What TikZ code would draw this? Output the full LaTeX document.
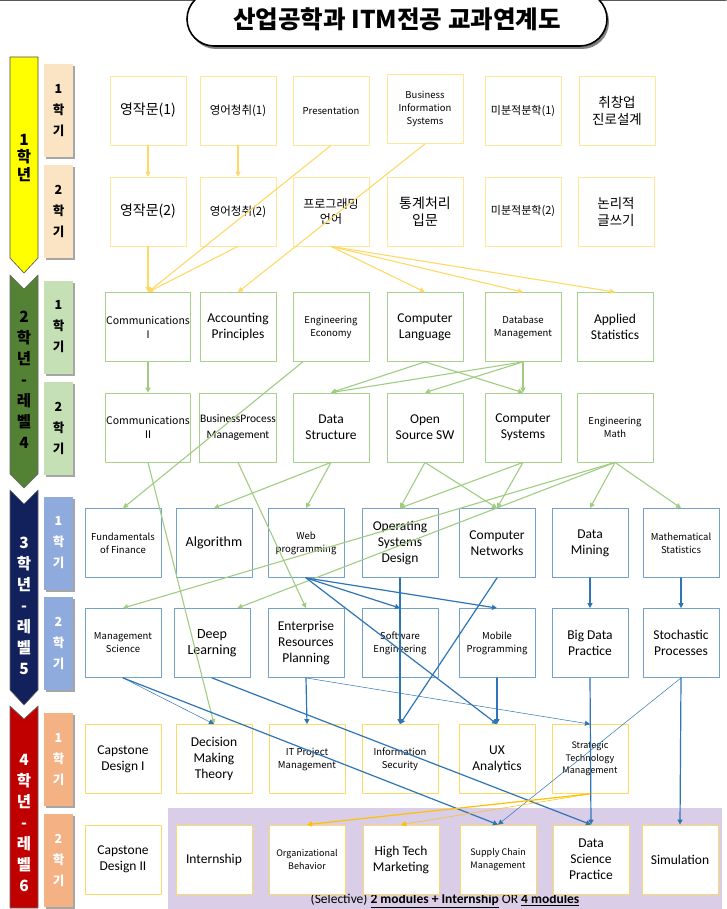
\documentclass[tikz,border=0pt]{standalone}
\usepackage{fontspec}
\setmainfont{Carlito}
\newfontfamily\kr{Noto Sans CJK KR}
\usetikzlibrary{arrows.meta,shadows}
\definecolor{vienvang}{RGB}{255,230,153}
\definecolor{vienla}{RGB}{169,209,142}
\definecolor{vienlam}{RGB}{116,160,204}
\definecolor{viencam}{RGB}{255,217,102}
\definecolor{muivang}{RGB}{255,217,102}
\definecolor{muila}{RGB}{160,205,130}
\definecolor{muilam}{RGB}{46,117,182}
\definecolor{muicam}{RGB}{255,192,0}
\definecolor{namvang}{RGB}{255,255,0}
\definecolor{namla}{RGB}{84,130,53}
\definecolor{namlam}{RGB}{18,32,92}
\definecolor{namdo}{RGB}{192,0,0}
\definecolor{kyvang}{RGB}{251,228,196}
\definecolor{kyla}{RGB}{197,224,180}
\definecolor{kylam}{RGB}{143,170,220}
\definecolor{kydo}{RGB}{244,177,131}
\definecolor{nentim}{RGB}{218,205,232}
\begin{document}
\begin{tikzpicture}[x=1pt,y=-1pt,
		line join = round,line cap = round,>={Triangle[length=5pt,width=5pt]},inner sep = 1pt,
		hcnvang/.style={rectangle,draw = vienvang,fill = white,line width=0.8pt, minimum width=76pt, minimum height=69pt,align=center},
		hcnla/.style={hcnvang,draw = vienla},
		hcnlam/.style={hcnvang,draw = vienlam},
		hcncam/.style={hcnvang,draw = viencam},
		chuanh/.style={font=\fontsize{13.5}{16}\selectfont},
		chunho/.style={font=\kr\fontsize{9.5}{13}\selectfont},
		chuhan/.style={font=\kr\fontsize{14}{17.5}\selectfont},
		tabky/.style={rectangle,minimum width=29pt,minimum height=93pt,align=center,
			font=\kr\bfseries\fontsize{12.5}{21}\selectfont,
			drop shadow={shadow xshift=2pt,shadow yshift=-2pt,opacity=0.35,fill=black}},
		chunam/.style={align=center,font=\kr\bfseries\fontsize{15.5}{21}\selectfont},
		noivang/.style={->,draw = muivang,line width=1.1pt},
		noila/.style={->,draw = muila,line width=1.1pt},
		noilam/.style={->,draw = muilam,line width=1.2pt},
		noicam/.style={->,draw = muicam,line width=1.2pt},
		mong/.style={line width=0.5pt}]
	\useasboundingbox (0,0) rectangle (726,909);
	\fill[white] (0,0) rectangle (726,909);
	\draw[black!65,line width=1pt] (0,0.5) -- (726,0.5);
	% title
	\node at (397,19) (nodeTitle) [rectangle,rounded corners=27pt,draw=black,fill=white,line width=1.6pt,
		minimum width=420pt,minimum height=54pt,font=\kr\bfseries\fontsize{24.5}{28}\selectfont,
		drop shadow={shadow xshift=2pt,shadow yshift=-3pt,opacity=0.5,fill=black}] {산업공학과 ITM전공 교과연계도};
	% year arrows
	\filldraw[fill=namvang,draw=black!70,line width=0.6pt] (10,57) -- (38,57) -- (38,258) -- (24,273) -- (10,258) -- cycle;
	\filldraw[fill=namla,draw=black!60,line width=0.6pt] (10,275) -- (24,289) -- (38,275) -- (38,474) -- (24,488) -- (10,474) -- cycle;
	\filldraw[fill=namlam,draw=black!60,line width=0.6pt] (10,490) -- (24,504) -- (38,490) -- (38,690) -- (24,705) -- (10,690) -- cycle;
	\filldraw[fill=namdo,draw=black!60,line width=0.6pt] (10,706) -- (24,719) -- (38,706) -- (38,908) -- (10,908) -- cycle;
	\node at (24,158) (nodeNam1) [chunam,font=\kr\bfseries\fontsize{15.5}{17.5}\selectfont] {1\\학\\년};
	\node at (24,380) (nodeNam2) [chunam] {2\\학\\년\\-\\레\\벨\\4};
	\node at (24,606) (nodeNam3) [chunam,text=white] {3\\학\\년\\-\\레\\벨\\5};
	\node at (24,823) (nodeNam4) [chunam,text=white] {4\\학\\년\\-\\레\\벨\\6};
	% semesters
	\node at (58.5,110.5) (nodeKy11) [tabky,fill=kyvang] {1\\학\\기};
	\node at (58.5,211.5) (nodeKy12) [tabky,fill=kyvang] {2\\학\\기};
	\node at (58.5,327) (nodeKy21) [tabky,fill=kyla] {1\\학\\기};
	\node at (58.5,428) (nodeKy22) [tabky,fill=kyla] {2\\학\\기};
	\node at (58.5,543) (nodeKy31) [tabky,fill=kylam,text=white] {1\\학\\기};
	\node at (58.5,643) (nodeKy32) [tabky,fill=kylam,text=white] {2\\학\\기};
	\node at (58.5,759.5) (nodeKy41) [tabky,fill=kydo,text=white] {1\\학\\기};
	\node at (58.5,860) (nodeKy42) [tabky,fill=kydo,text=white] {2\\학\\기};
	% elective band
	\fill[nentim] (168,808) rectangle (722,909);
	\node at (445,901) (nodeChon) [font=\fontsize{13.5}{15}\selectfont] {(Selective) \underline{\textbf{2 modules + Internship}} OR \underline{\textbf{4 modules}}};
	% 1st year
	\node at (148,110.5) (nodeEW1) [hcnvang,chuhan] {영작문(1)};
	\node at (238,110.5) (nodeEL1) [hcnvang,chuhan,font=\kr\fontsize{11.5}{14}\selectfont] {영어청취(1)};
	\node at (331,110.5) (nodePres) [hcnvang,chunho] {Presentation};
	\node at (425,109) (nodeBIS) [hcnvang,chunho] {Business\\Information\\Systems};
	\node at (523,111) (nodeCal1) [hcnvang,chuhan,font=\kr\fontsize{11}{14}\selectfont] {미분적분학(1)};
	\node at (617,111) (nodeCareer) [hcnvang,chuhan,font=\kr\fontsize{13.5}{16.5}\selectfont] {취창업\\진로설계};
	\node at (148,211.5) (nodeEW2) [hcnvang,chuhan] {영작문(2)};
	\node at (238,211.5) (nodeEL2) [hcnvang,chuhan,font=\kr\fontsize{11.5}{14}\selectfont] {영어청취(2)};
	\node at (331,211.5) (nodeProg) [hcnvang,chuhan,font=\kr\fontsize{12}{14.5}\selectfont] {프로그래밍\\언어};
	\node at (425,211.5) (nodeStat) [hcnvang,chuhan] {통계처리\\입문};
	\node at (523,211.5) (nodeCal2) [hcnvang,chuhan,font=\kr\fontsize{11}{14}\selectfont] {미분적분학(2)};
	\node at (616,211.5) (nodeWrite) [hcnvang,chuhan,font=\kr\fontsize{13.5}{17}\selectfont] {논리적\\글쓰기};
	% 2nd year
	\node at (148,327) (nodeCom1) [hcnla,chunho,font=\kr\fontsize{10.5}{14}\selectfont] {Communications\\Ⅰ};
	\node at (238,327) (nodeAcc) [hcnla,chuanh] {Accounting\\Principles};
	\node at (331,327) (nodeEcon) [hcnla,chunho] {Engineering\\Economy};
	\node at (425,327) (nodeCL) [hcnla,chuanh] {Computer\\Language};
	\node at (523,327) (nodeDB) [hcnla,chunho] {Database\\Management};
	\node at (615,327) (nodeAS) [hcnla,chuanh] {Applied\\Statistics};
	\node at (148,427.5) (nodeCom2) [hcnla,chunho,font=\kr\fontsize{10.5}{14}\selectfont] {Communications\\Ⅱ};
	\node at (238,427.5) (nodeBPM) [hcnla,chuanh,font=\fontsize{11.5}{16}\selectfont] {BusinessProcess\\Management};
	\node at (331,427.5) (nodeDS) [hcnla,chuanh] {Data\\Structure};
	\node at (425,427.5) (nodeOSS) [hcnla,chuanh] {Open\\Source SW};
	\node at (523,427.5) (nodeCS) [hcnla,chuanh] {Computer\\Systems};
	\node at (615,427.5) (nodeEM) [hcnla,chunho] {Engineering\\Math};
	% 3rd year
	\node at (123,543) (nodeFin) [hcnlam,chunho] {Fundamentals\\of Finance};
	\node at (214,543) (nodeAlg) [hcnlam,chuanh,font=\fontsize{14}{16}\selectfont] {Algorithm};
	\node at (306,543) (nodeWeb) [hcnlam,chunho] {Web\\programming};
	\node at (400,543) (nodeOS) [hcnlam,chuanh] {Operating\\Systems\\Design};
	\node at (497,543) (nodeCN) [hcnlam,chuanh] {Computer\\Networks};
	\node at (590,543) (nodeDM) [hcnlam,chuanh] {Data\\Mining};
	\node at (681,543) (nodeMS) [hcnlam,chunho] {Mathematical\\Statistics};
	\node at (123,643) (nodeMgt) [hcnlam,chunho] {Management\\Science};
	\node at (212,643) (nodeDL) [hcnlam,chuanh,font=\fontsize{14}{16}\selectfont] {Deep\\Learning};
	\node at (306,643) (nodeERP) [hcnlam,chuanh] {Enterprise\\Resources\\Planning};
	\node at (400,643) (nodeSE) [hcnlam,chunho] {Software\\Engineering};
	\node at (497,643) (nodeMob) [hcnlam,chunho] {Mobile\\Programming};
	\node at (590,643) (nodeBD) [hcnlam,chuanh] {Big Data\\Practice};
	\node at (681,643) (nodeSP) [hcnlam,chuanh] {Stochastic\\Processes};
	% 4th year
	\node at (123,759) (nodeCap1) [hcncam,chuanh] {Capstone\\Design I};
	\node at (214,759) (nodeDMT) [hcncam,chuanh] {Decision\\Making\\Theory};
	\node at (307,759) (nodeITPM) [hcncam,chunho] {IT Project\\Management};
	\node at (400,759) (nodeIS) [hcncam,chunho] {Information\\Security};
	\node at (497,759) (nodeUX) [hcncam,chuanh] {UX\\Analytics};
	\node at (590,759) (nodeSTM) [hcncam,chunho,font=\kr\fontsize{9}{12.5}\selectfont] {Strategic\\Technology\\Management};
	\node at (123,859.5) (nodeCap2) [hcncam,chuanh] {Capstone\\Design II};
	\node at (214,859.5) (nodeInt) [hcncam,chuanh] {Internship};
	\node at (307,859.5) (nodeOB) [hcncam,chunho,font=\kr\fontsize{9}{13}\selectfont] {Organizational\\Behavior};
	\node at (401,859.5) (nodeHTM) [hcncam,chuanh] {High Tech\\Marketing};
	\node at (498,859.5) (nodeSCM) [hcncam,chunho,font=\kr\fontsize{9}{13}\selectfont] {Supply Chain\\Management};
	\node at (591,859.5) (nodeDSP) [hcncam,chuanh] {Data\\Science\\Practice};
	\node at (680,859.5) (nodeSim) [hcncam,chuanh] {Simulation};
	% links 1st year
	\draw[noivang] (nodeEW1.south) to (nodeEW2.north);
	\draw[noivang] (nodeEL1.south) to (nodeEL2.north);
	\draw[noivang] (nodeEW2.south) to (nodeCom1.north);
	\draw[noivang] (nodeEL2.south) to (nodeCom1.north);
	\draw[noivang] (nodePres.south) to (nodeCom1.north);
	\draw[noivang] (nodeBIS.south) to (nodeAcc.north);
	\draw[noivang] (nodeProg.south) to (nodeCL.north);
	\draw[noivang] (nodeProg.south) to (nodeDB.north);
	\draw[noivang] (nodeProg.south) to (nodeAS.north);
	% links 2nd year
	\draw[noila] (nodeCom1.south) to (nodeCom2.north);
	\draw[noila] (nodeEcon.231) to (nodeFin.north);
	\draw[noila] (nodeCL.south) to (nodeDS.north);
	\draw[noila] (nodeCL.south) to (nodeCS.north);
	\draw[noila] (nodeDB.south) to (nodeDS.north);
	\draw[noila] (nodeDB.south) to (nodeOSS.north);
	\draw[noila] (nodeDB.south) to (nodeCS.north);
	\draw[noila] (nodeCom2.south) to (nodeDMT.north);
	\draw[noila] (nodeBPM.south) to (nodeERP.north);
	\draw[noila] (nodeDS.south) to (nodeAlg.north);
	\draw[noila] (nodeDS.south) to (nodeWeb.north);
	\draw[noila] (nodeOSS.south) to (nodeOS.north);
	\draw[noila] (nodeOSS.south) to (nodeCN.north);
	\draw[noila] (nodeCS.south) to (nodeOS.north);
	\draw[noila] (nodeCS.south) to (nodeCN.north);
	\draw[noila] (nodeEM.south) to (nodeDM.north);
	\draw[noila] (nodeEM.south) to (nodeMS.north);
	\draw[noila] (nodeEM.south) to (nodeMgt.north);
	\draw[noila] (nodeEM.south) to (nodeDL.54);
	% links 3rd year
	\draw[noilam] (nodeWeb.south) to (nodeSE.north);
	\draw[noilam] (nodeWeb.south) to (nodeMob.north);
	\draw[noilam] (nodeWeb.south) to (nodeUX.north);
	\draw[noilam] (nodeOS.south) to (nodeIS.north);
	\draw[noilam] (nodeCN.south) to (nodeIS.north);
	\draw[noilam] (nodeDM.south) to (nodeBD.north);
	\draw[noilam] (nodeMS.south) to (nodeSP.north);
	\draw[noilam] (nodeMgt.south) to (nodeSCM.north);
	\draw[noilam,mong] (nodeMgt.south) to (nodeDMT.north);
	\draw[noilam] (nodeDL.south) to (nodeDSP.north);
	\draw[noilam] (nodeERP.south) to (nodeITPM.north);
	\draw[noilam,mong] (nodeERP.south) to (nodeSTM.north);
	\draw[noilam] (nodeMob.south) to (nodeUX.north);
	\draw[noilam] (nodeBD.south) to (nodeDSP.north);
	\draw[noilam] (nodeSP.south) to (nodeSim.north);
	\draw[noilam,mong] (nodeSP.south) to (nodeSCM.north);
	% links 4th year
	\draw[noicam] (nodeSTM.south) to (nodeOB.north);
	\draw[noicam,mong] (nodeSTM.south) to (nodeHTM.north);
\end{tikzpicture}
\end{document}
